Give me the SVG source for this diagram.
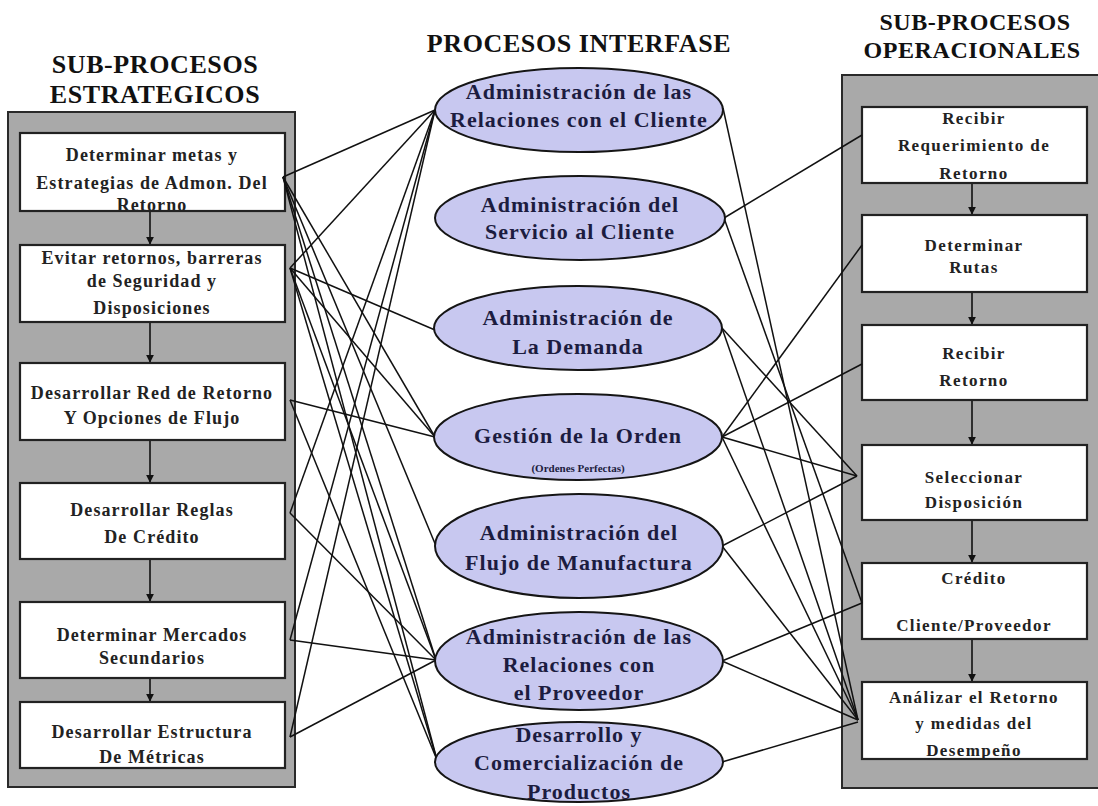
<svg xmlns="http://www.w3.org/2000/svg" width="1098" height="806" viewBox="0 0 1098 806">
<defs>
<style>
.title{font-family:"Liberation Serif","Times New Roman",serif;font-weight:bold;font-size:26px;fill:#111;text-anchor:middle;letter-spacing:0.6px}
.title2{font-family:"Liberation Serif","Times New Roman",serif;font-weight:bold;font-size:24px;fill:#111;text-anchor:middle;letter-spacing:0.6px}
.bt{font-family:"Liberation Serif","Times New Roman",serif;font-weight:bold;font-size:18px;fill:#222;text-anchor:middle;letter-spacing:1.1px}
.rt{font-family:"Liberation Serif","Times New Roman",serif;font-weight:bold;font-size:17px;fill:#222;text-anchor:middle;letter-spacing:1.4px}
.et{font-family:"Liberation Serif","Times New Roman",serif;font-weight:bold;font-size:22px;fill:#1c1c40;text-anchor:middle;letter-spacing:1px}
.es{font-family:"Liberation Serif","Times New Roman",serif;font-weight:bold;font-size:11px;fill:#1c1c40;text-anchor:middle}
.panel{fill:#a9a9a9;stroke:#2a2a2a;stroke-width:2}
.box{fill:#fff;stroke:#222;stroke-width:2.2}
.ell{fill:#c8c8f0;stroke:#151515;stroke-width:2}
.con line{stroke:#111;stroke-width:1.5}
.arr{stroke:#111;stroke-width:1.6;marker-end:url(#ah)}
</style>
<marker id="ah" viewBox="0 0 10 10" refX="9" refY="5" markerWidth="5" markerHeight="5" orient="auto">
<path d="M0,0 L10,5 L0,10 z" fill="#111"/>
</marker>
</defs>
<rect width="1098" height="806" fill="#fff"/>

<!-- titles -->
<text class="title" x="155" y="73">SUB-PROCESOS</text>
<text class="title" x="155" y="103">ESTRATEGICOS</text>
<text class="title" x="579" y="52">PROCESOS INTERFASE</text>
<text class="title2" x="975" y="30">SUB-PROCESOS</text>
<text class="title2" x="972" y="58">OPERACIONALES</text>

<!-- panels -->
<rect class="panel" x="8" y="112" width="287" height="675"/>
<rect class="panel" x="842" y="75" width="270" height="713"/>

<!-- left arrows -->
<g id="left-arrows">
<line class="arr" x1="150" y1="212" x2="150" y2="244"/>
<line class="arr" x1="150" y1="323" x2="150" y2="362"/>
<line class="arr" x1="150" y1="441" x2="150" y2="482"/>
<line class="arr" x1="150" y1="560" x2="150" y2="601"/>
<line class="arr" x1="150" y1="679" x2="150" y2="701"/>
</g>
<g id="right-arrows">
<line class="arr" x1="972" y1="184" x2="972" y2="214"/>
<line class="arr" x1="972" y1="293" x2="972" y2="324"/>
<line class="arr" x1="972" y1="401" x2="972" y2="444"/>
<line class="arr" x1="972" y1="521" x2="972" y2="562"/>
<line class="arr" x1="972" y1="640" x2="972" y2="681"/>
</g>

<!-- left boxes -->
<g id="s1"><rect class="box" x="20" y="133" width="265" height="78"/>
<text class="bt" x="152" y="161">Determinar metas y</text>
<text class="bt" x="152" y="189">Estrategias de Admon. Del</text>
<text class="bt" x="152" y="211">Retorno</text></g>
<g id="s2"><rect class="box" x="20" y="245" width="265" height="77"/>
<text class="bt" x="152" y="264">Evitar retornos, barreras</text>
<text class="bt" x="152" y="287">de Seguridad y</text>
<text class="bt" x="152" y="314">Disposiciones</text></g>
<g id="s3"><rect class="box" x="20" y="363" width="265" height="77"/>
<text class="bt" x="152" y="399">Desarrollar Red de Retorno</text>
<text class="bt" x="152" y="424">Y Opciones de Flujo</text></g>
<g id="s4"><rect class="box" x="20" y="483" width="265" height="76"/>
<text class="bt" x="152" y="516">Desarrollar Reglas</text>
<text class="bt" x="152" y="543">De Crédito</text></g>
<g id="s5"><rect class="box" x="20" y="602" width="265" height="76"/>
<text class="bt" x="152" y="641">Determinar Mercados</text>
<text class="bt" x="152" y="664">Secundarios</text></g>
<g id="s6"><rect class="box" x="20" y="702" width="265" height="66"/>
<text class="bt" x="152" y="738">Desarrollar Estructura</text>
<text class="bt" x="152" y="763">De Métricas</text></g>

<!-- right boxes -->
<g id="o1"><rect class="box" x="862" y="107" width="225" height="76"/>
<text class="rt" x="974" y="124">Recibir</text>
<text class="rt" x="974" y="151">Requerimiento de</text>
<text class="rt" x="974" y="179">Retorno</text></g>
<g id="o2"><rect class="box" x="862" y="215" width="225" height="77"/>
<text class="rt" x="974" y="251">Determinar</text>
<text class="rt" x="974" y="273">Rutas</text></g>
<g id="o3"><rect class="box" x="862" y="325" width="225" height="75"/>
<text class="rt" x="974" y="359">Recibir</text>
<text class="rt" x="974" y="386">Retorno</text></g>
<g id="o4"><rect class="box" x="862" y="445" width="225" height="75"/>
<text class="rt" x="974" y="483">Seleccionar</text>
<text class="rt" x="974" y="508">Disposición</text></g>
<g id="o5"><rect class="box" x="862" y="563" width="225" height="76"/>
<text class="rt" x="974" y="584">Crédito</text>
<text class="rt" x="974" y="631">Cliente/Proveedor</text></g>
<g id="o6"><rect class="box" x="862" y="682" width="225" height="77"/>
<text class="rt" x="974" y="703">Análizar el Retorno</text>
<text class="rt" x="974" y="729">y medidas del</text>
<text class="rt" x="974" y="756">Desempeño</text></g>

<!-- connectors -->
<g id="connectors" class="con">
<!-- left -->
<line x1="283" y1="177" x2="435" y2="110"/>
<line x1="283" y1="177" x2="435" y2="437"/>
<line x1="283" y1="177" x2="436" y2="546"/>
<line x1="283" y1="177" x2="436" y2="660"/>
<line x1="283" y1="177" x2="437" y2="760"/>
<line x1="290" y1="268" x2="435" y2="110"/>
<line x1="290" y1="268" x2="435" y2="330"/>
<line x1="290" y1="268" x2="435" y2="437"/>
<line x1="290" y1="268" x2="436" y2="660"/>
<line x1="290" y1="268" x2="437" y2="760"/>
<line x1="290" y1="400" x2="435" y2="437"/>
<line x1="290" y1="400" x2="437" y2="760"/>
<line x1="290" y1="513" x2="435" y2="110"/>
<line x1="290" y1="513" x2="436" y2="660"/>
<line x1="290" y1="640" x2="435" y2="110"/>
<line x1="290" y1="640" x2="436" y2="660"/>
<line x1="290" y1="737" x2="435" y2="110"/>
<line x1="290" y1="737" x2="436" y2="660"/>
<!-- right -->
<line x1="723" y1="108" x2="858" y2="720"/>
<line x1="724" y1="218" x2="862" y2="135"/>
<line x1="724" y1="218" x2="862" y2="603"/>
<line x1="722" y1="328" x2="857" y2="476"/>
<line x1="722" y1="328" x2="858" y2="720"/>
<line x1="722" y1="437" x2="862" y2="245"/>
<line x1="722" y1="437" x2="862" y2="364"/>
<line x1="722" y1="437" x2="857" y2="476"/>
<line x1="722" y1="437" x2="858" y2="720"/>
<line x1="722" y1="546" x2="857" y2="476"/>
<line x1="722" y1="546" x2="858" y2="720"/>
<line x1="722" y1="661" x2="862" y2="603"/>
<line x1="722" y1="661" x2="858" y2="720"/>
<line x1="722" y1="762" x2="858" y2="722"/>
</g>

<!-- ellipses -->
<g id="p1"><ellipse class="ell" cx="579" cy="110" rx="144" ry="42"/>
<text class="et" x="579" y="99">Administración de las</text>
<text class="et" x="579" y="127">Relaciones con el Cliente</text></g>
<g id="p2"><ellipse class="ell" cx="580" cy="218" rx="145" ry="42"/>
<text class="et" x="580" y="212">Administración del</text>
<text class="et" x="580" y="239">Servicio al Cliente</text></g>
<g id="p3"><ellipse class="ell" cx="578" cy="328" rx="144" ry="42"/>
<text class="et" x="578" y="325">Administración de</text>
<text class="et" x="578" y="354">La Demanda</text></g>
<g id="p4"><ellipse class="ell" cx="578" cy="437" rx="144" ry="43"/>
<text class="et" x="578" y="443">Gestión de la Orden</text>
<text class="es" x="578" y="472">(Ordenes Perfectas)</text></g>
<g id="p5"><ellipse class="ell" cx="579" cy="546" rx="144" ry="52"/>
<text class="et" x="579" y="540">Administración del</text>
<text class="et" x="579" y="570">Flujo de Manufactura</text></g>
<g id="p6"><ellipse class="ell" cx="579" cy="661" rx="144" ry="49"/>
<text class="et" x="579" y="644">Administración de las</text>
<text class="et" x="579" y="672">Relaciones con</text>
<text class="et" x="579" y="700">el Proveedor</text></g>
<g id="p7"><ellipse class="ell" cx="579" cy="762" rx="144" ry="40"/>
<text class="et" x="579" y="742">Desarrollo y</text>
<text class="et" x="579" y="770">Comercialización de</text>
<text class="et" x="579" y="799">Productos</text></g>
</svg>
